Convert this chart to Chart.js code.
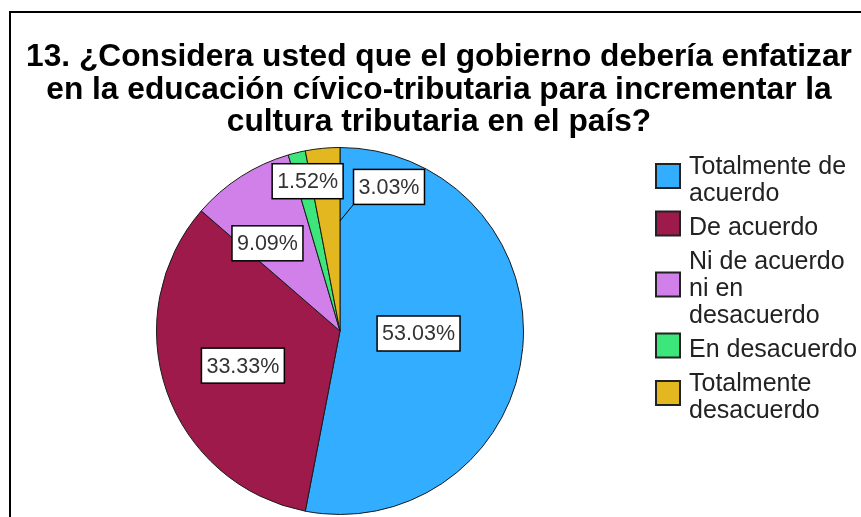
<!DOCTYPE html>
<html>
<head>
<meta charset="utf-8">
<script src="https://cdn.jsdelivr.net/npm/chart.js@4/dist/chart.umd.min.js"></script>
<style>
  html, body { margin: 0; padding: 0; background: #fff; overflow: hidden; }
  #marco {
    position: absolute; left: 9px; top: 11px;
    width: 900px; height: 520px;
    border-left: 2px solid #000; border-top: 2px solid #000;
  }
  #grafico { position: absolute; left: 0; top: 0; }
</style>
</head>
<body>
<div id="marco"><canvas id="grafico" width="856" height="504"></canvas></div>
<script>
// Datos
const categorias = [
  ['Totalmente de', 'acuerdo'],
  ['De acuerdo'],
  ['Ni de acuerdo', 'ni en', 'desacuerdo'],
  ['En desacuerdo'],
  ['Totalmente', 'desacuerdo']
];
const porcentajes = [53.03, 33.33, 9.09, 1.52, 3.03];
const colores = ['#33adff', '#9e1a4b', '#d080e8', '#3de67a', '#e2b71f'];
const titulo = [
  '13. ¿Considera usted que el gobierno debería enfatizar',
  'en la educación cívico-tributaria para incrementar la',
  'cultura tributaria en el país?'
];

const FUENTE = '"Liberation Sans", Arial, sans-serif';

// Donde va cada etiqueta (fraccion del radio + ajuste en px)
const posEtiquetas = [
  { frac: 0.43, dx: 0, dy: -5 },
  { frac: 0.56, dx: 0, dy: 1 },
  { frac: 0.62, dx: -11, dy: 8 },
  { frac: 0.84, dx: 4, dy: 0 },
  { frac: 0.60, dx: 49, dy: -34, enFinal: true, guia: true }
];

// Etiquetas con caja blanca sobre cada porcion
const etiquetasPlugin = {
  id: 'etiquetas',
  afterDatasetsDraw(chart) {
    const ctx = chart.ctx;
    const meta = chart.getDatasetMeta(0);
    ctx.save();
    ctx.font = '21.5px ' + FUENTE;
    ctx.textAlign = 'center';
    ctx.textBaseline = 'middle';
    meta.data.forEach((arc, i) => {
      const p = arc.getProps(['x', 'y', 'startAngle', 'endAngle', 'outerRadius'], true);
      const conf = posEtiquetas[i];
      const ang = conf.enFinal ? p.endAngle : (p.startAngle + p.endAngle) / 2;
      const ax = p.x + Math.cos(ang) * p.outerRadius * conf.frac;
      const ay = p.y + Math.sin(ang) * p.outerRadius * conf.frac;
      const cx = ax + conf.dx;
      const cy = ay + conf.dy;
      const texto = porcentajes[i].toFixed(2) + '%';
      const w = ctx.measureText(texto).width + 10;
      const h = 35;
      if (conf.guia) {
        ctx.strokeStyle = '#000';
        ctx.lineWidth = 1;
        ctx.beginPath();
        ctx.moveTo(ax, ay);
        ctx.lineTo(cx - w / 2, cy + h / 2);
        ctx.stroke();
      }
      ctx.fillStyle = '#fff';
      ctx.fillRect(cx - w / 2, cy - h / 2, w, h);
      ctx.strokeStyle = '#000';
      ctx.lineWidth = 1.5;
      ctx.strokeRect(cx - w / 2, cy - h / 2, w, h);
      ctx.fillStyle = '#333';
      ctx.fillText(texto, cx, cy + 1);
    });
    ctx.restore();
  }
};

// Caja de leyenda a la derecha (reserva espacio en el layout)
const leyendaPlugin = {
  id: 'leyendaDerecha',
  beforeInit(chart) {
    const caja = {
      position: 'right',
      weight: 0,
      fullSize: false,
      options: {},
      update(maxW, maxH) {
        this.width = 198;
        this.height = maxH;
      },
      isHorizontal() { return false; },
      draw() {
        const ctx = chart.ctx;
        const area = chart.chartArea;
        const alto = 27, hueco = 7, lado = 24;
        let y = area.top + 2;
        ctx.save();
        ctx.font = '25px ' + FUENTE;
        ctx.textAlign = 'left';
        ctx.textBaseline = 'alphabetic';
        categorias.forEach((lineas, i) => {
          const bloque = lineas.length * alto;
          const cy = y + bloque / 2;
          const sx = this.left - 13;
          ctx.fillStyle = colores[i];
          ctx.fillRect(sx, cy - lado / 2, lado, lado);
          ctx.strokeStyle = '#222';
          ctx.lineWidth = 2;
          ctx.strokeRect(sx, cy - lado / 2, lado, lado);
          ctx.fillStyle = '#222';
          lineas.forEach((t, j) => {
            ctx.fillText(t, sx + 33, y + 25 + j * alto);
          });
          y += bloque + hueco;
        });
        ctx.restore();
      }
    };
    Chart.layouts.addBox(chart, caja);
  }
};

new Chart(document.getElementById('grafico'), {
  type: 'pie',
  data: {
    labels: categorias.map(c => c.join(' ')),
    datasets: [{
      data: porcentajes,
      backgroundColor: colores,
      borderColor: '#1a1a1a',
      borderWidth: 1
    }]
  },
  options: {
    responsive: false,
    animation: false,
    devicePixelRatio: 1,
    layout: { padding: { bottom: 2 } },
    plugins: {
      legend: { display: false },
      tooltip: { enabled: false },
      title: {
        display: true,
        text: titulo,
        color: '#000',
        font: { family: FUENTE, size: 31.7, weight: 'bold', lineHeight: '32.5px' },
        padding: { top: 28.2, bottom: 8.3 }
      }
    }
  },
  plugins: [etiquetasPlugin, leyendaPlugin]
});
</script>
</body>
</html>
